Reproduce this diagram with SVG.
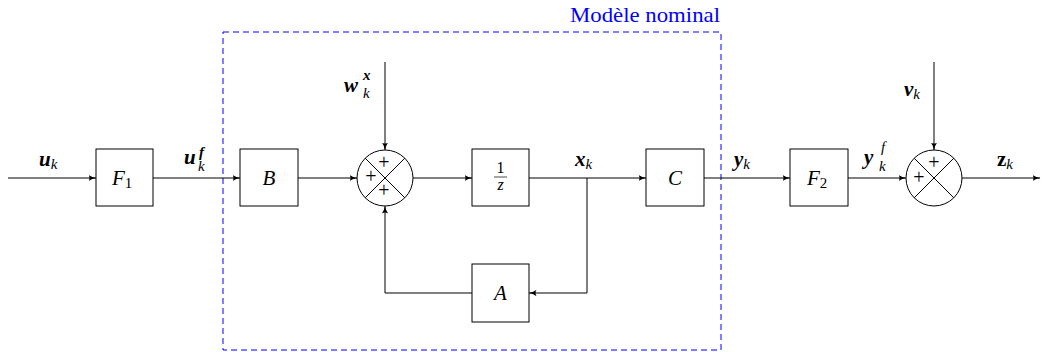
<svg xmlns="http://www.w3.org/2000/svg" width="1046" height="352" viewBox="0 0 1046 352">
<style>
.box{fill:#fff;stroke:#000;stroke-width:1}
.ln{fill:none;stroke:#000;stroke-width:1}
.ar{marker-end:url(#arr)}
.t{font-size:21px;fill:#000}
.m{font-style:italic}
.b{font-weight:bold}
.c{text-anchor:middle}
.s{font-size:15px}
.pl{font-size:20px;text-anchor:middle;fill:#000}
</style>
<defs>
<marker id="arr" viewBox="0 0 8 8" refX="7.5" refY="4" markerWidth="8" markerHeight="8" markerUnits="userSpaceOnUse" orient="auto">
<path d="M0,0.8 Q3,3.3 8,4 Q3,4.7 0,7.2 Q2,4 0,0.8 Z" fill="#000"/>
</marker>
</defs>
<g font-family="'Liberation Serif', serif">
<g id="modele">
<rect x="223" y="32" width="498" height="318" fill="none" stroke="#0000ff" stroke-width="1" stroke-dasharray="6,4"/>
<text x="645" y="22" font-size="21" text-anchor="middle" fill="#0000ff" textLength="150" lengthAdjust="spacingAndGlyphs">Modèle nominal</text>
</g>
<g id="connectors">
<line class="ln ar" x1="8" y1="178" x2="96" y2="178"/>
<line class="ln ar" x1="153" y1="178" x2="240" y2="178"/>
<line class="ln ar" x1="298" y1="178" x2="357" y2="178"/>
<line class="ln ar" x1="413" y1="178" x2="472" y2="178"/>
<line class="ln ar" x1="529" y1="178" x2="646" y2="178"/>
<line class="ln ar" x1="704" y1="178" x2="790" y2="178"/>
<line class="ln ar" x1="848" y1="178" x2="906" y2="178"/>
<line class="ln ar" x1="962" y1="178" x2="1040" y2="178"/>
<polyline class="ln ar" points="587,178 587,293 529,293"/>
<polyline class="ln ar" points="472,293 385,293 385,206"/>
<line class="ln ar" x1="385" y1="62" x2="385" y2="150"/>
<line class="ln ar" x1="934" y1="62" x2="934" y2="150"/>
</g>
<g id="F1"><rect class="box" x="96" y="149" width="57" height="57"/><text class="t m" x="112" y="185">F<tspan class="s" font-style="normal" dy="3">1</tspan></text></g>
<g id="B"><rect class="box" x="240" y="149" width="58" height="57"/><text class="t m c" x="269" y="185">B</text></g>
<g id="sum1">
<circle cx="385" cy="178" r="28" fill="#fff" stroke="#000"/>
<path class="ln" d="M365.2,158.2 L404.8,197.8 M404.8,158.2 L365.2,197.8"/>
<text class="pl" x="384" y="169">+</text>
<text class="pl" x="371" y="183">+</text>
<text class="pl" x="384" y="197">+</text>
</g>
<g id="invz"><rect class="box" x="472" y="149" width="57" height="57"/>
<text class="t c" style="font-size:16px" x="500.5" y="173">1</text>
<line x1="494" y1="177" x2="507" y2="177" stroke="#000" stroke-width="0.7"/>
<text class="t m c" style="font-size:16px" x="500.5" y="190">z</text>
</g>
<g id="C"><rect class="box" x="646" y="149" width="58" height="57"/><text class="t m c" x="675" y="185">C</text></g>
<g id="A"><rect class="box" x="472" y="264" width="57" height="58"/><text class="t m c" x="500.5" y="300">A</text></g>
<g id="F2"><rect class="box" x="790" y="149" width="58" height="57"/><text class="t m" x="807" y="185">F<tspan class="s" font-style="normal" dy="3">2</tspan></text></g>
<g id="sum2">
<circle cx="934" cy="178" r="28" fill="#fff" stroke="#000"/>
<path class="ln" d="M914.2,158.2 L953.8,197.8 M953.8,158.2 L914.2,197.8"/>
<text class="pl" x="934" y="169">+</text>
<text class="pl" x="919" y="184">+</text>
</g>
<g id="labels">
<text class="t m b" x="39" y="166">u<tspan class="s" font-weight="normal" dy="3">k</tspan></text>
<text class="t m b" x="184" y="164">u</text>
<text class="t m b s" x="199" y="157">f</text>
<text class="t m s" x="198" y="171">k</text>
<text class="t m b" x="344" y="92">w</text>
<text class="t m b s" x="363" y="80">x</text>
<text class="t m s" x="363" y="98">k</text>
<text class="t m b" x="575" y="166">x<tspan class="s" font-weight="normal" dy="3">k</tspan></text>
<text class="t m b" x="734" y="166">y<tspan class="s" font-weight="normal" dy="3">k</tspan></text>
<text class="t m b" x="864" y="164">y</text>
<text class="t m s" x="881" y="152">f</text>
<text class="t m s" x="879" y="171">k</text>
<text class="t m b" x="904" y="96">v<tspan class="s" font-weight="normal" dy="3">k</tspan></text>
<text class="t b" x="997" y="166">z<tspan class="s m" font-weight="normal" dy="3">k</tspan></text>
</g>
</g>
</svg>
